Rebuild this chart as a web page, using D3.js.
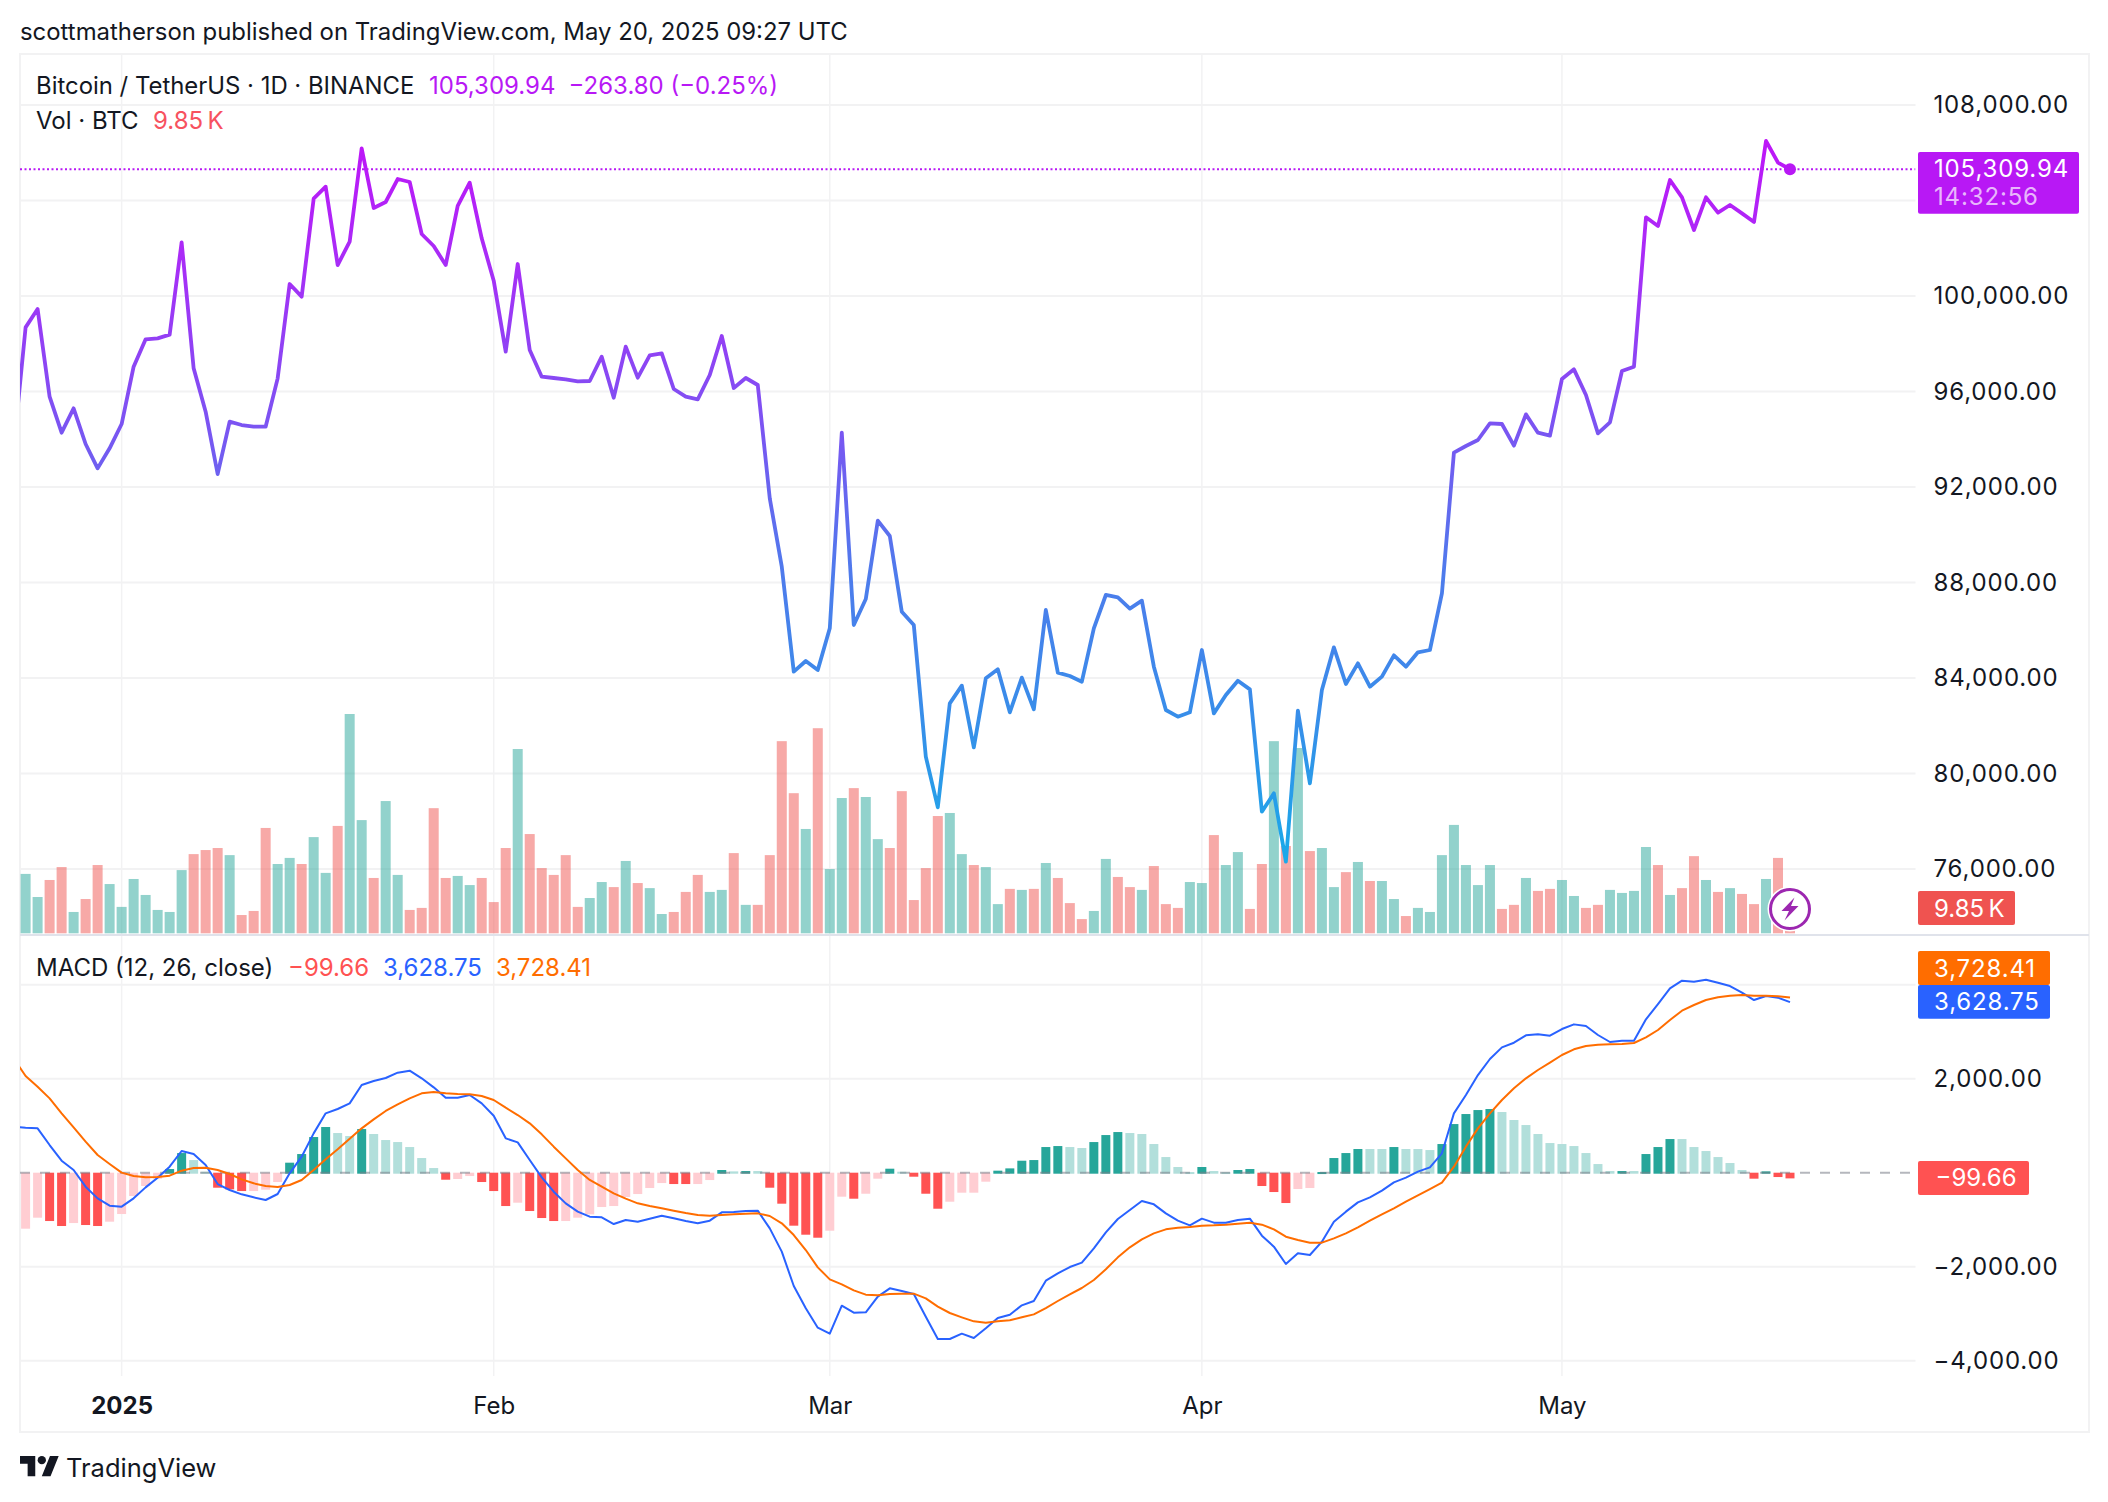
<!DOCTYPE html>
<html><head><meta charset="utf-8">
<script src="https://cdn.jsdelivr.net/npm/d3@7"></script>
<style>
html,body{margin:0;padding:0;background:#fff}
svg{display:block}
text{font-family:Inter,"Noto Sans",sans-serif;fill:#131722}
.axis path,.axis line{display:none}
</style></head><body><svg id="c" width="2108" height="1502"></svg>
<script>
// Daily closes, first value is 23 Dec 2024 (partly clipped by the pane edge), last is 20 May 2025
const close=[93591,98687,99455,95783,94275,95295,93801,92781,93619,94638,97040,98185,98227,98380,102248,96970,95155,92544,94736,94596,94527,94527,96551,100502,99972,104077,104579,101298,102276,106185,103686,103937,104900,104775,102597,102094,101298,103770,104747,102415,100642,97668,101340,97738,96621,96565,96509,96425,96439,97459,95741,97878,96579,97515,97598,96104,95783,95672,96691,98324,96146,96565,96272,91525,88663,84265,84712,84335,86080,94276,86220,87309,90590,89948,86778,86220,80705,78583,82939,83679,81096,83986,84363,82562,84014,82688,86848,84223,84084,83846,86080,87477,87379,86904,87239,84475,82660,82380,82562,85173,82520,83288,83888,83525,78401,79169,76307,82632,79588,83497,85284,83749,84614,83637,84056,84949,84475,85075,85173,87546,93438,93717,93968,94666,94638,93731,95043,94275,94150,96523,96928,95853,94247,94708,96858,97040,103295,102932,104859,104133,102764,104133,103490,103811,103462,103099,106492,105585,105309.94];
// Daily volume in thousands of BTC, from 24 Dec 2024
const volume=[23.4,14.3,21.0,26.1,8.4,13.5,26.9,19.4,10.4,21.4,15.1,9.2,8.4,24.9,31.2,32.8,33.6,30.8,7.2,8.8,41.5,27.3,29.7,27.3,37.9,23.8,42.3,86.4,44.6,21.8,52.1,23.0,9.2,10.0,49.3,21.8,22.6,19.0,21.8,12.3,33.6,72.6,39.1,25.7,23.0,30.8,10.4,13.9,20.2,18.2,28.5,19.8,17.8,7.6,8.4,16.3,23.0,16.3,17.1,31.6,11.2,11.2,30.8,75.7,55.2,41.1,80.8,25.3,53.3,57.2,53.7,37.1,33.6,56.0,13.1,25.7,46.2,47.4,31.2,26.9,26.1,11.5,17.5,17.1,17.5,27.7,21.8,11.9,5.6,8.8,29.3,22.2,18.2,17.1,26.5,11.5,10.0,20.2,19.8,38.7,26.9,32.0,9.6,27.3,75.7,34.4,73.0,32.4,33.6,18.2,24.1,28.1,20.6,20.6,13.5,6.8,10.0,8.4,30.8,42.7,26.9,19.0,26.9,9.6,11.2,21.8,16.7,17.5,21.0,14.7,10.0,11.2,17.1,15.9,16.7,34.0,26.9,15.1,17.8,30.4,21.0,16.3,17.8,15.5,11.5,21.4,29.7,9.85];
// 1 = close above open, 0 = below
const volumeUp=[1,1,0,0,1,0,0,1,1,1,1,1,1,1,0,0,0,1,0,0,0,1,1,0,1,1,0,1,1,0,1,1,0,0,0,0,1,1,0,0,0,1,0,0,0,0,0,1,1,0,1,0,1,1,0,0,0,1,1,0,1,0,0,0,0,1,0,1,1,0,1,1,0,0,0,0,0,1,1,0,1,1,0,1,0,1,0,0,0,1,1,0,0,1,0,0,0,1,1,0,1,1,0,0,1,0,1,0,1,1,0,1,0,1,1,0,1,1,1,1,1,1,1,0,0,1,0,0,1,1,0,0,1,1,1,1,0,1,0,0,1,0,1,0,0,1,0,0];
// MACD line and signal line, first value is 23 Dec 2024
const macdLine=[979,958,944,589,256,57,-297,-546,-702,-723,-546,-312,-106,128,462,398,164,-241,-368,-460,-524,-581,-453,-14,341,837,1263,1355,1476,1866,1951,2015,2128,2171,2008,1816,1596,1596,1653,1476,1213,731,646,270,-99,-404,-652,-829,-936,-950,-1092,-1007,-1042,-978,-914,-971,-1028,-1077,-1021,-843,-836,-815,-808,-1184,-1680,-2411,-2886,-3297,-3425,-2829,-2978,-2971,-2638,-2460,-2517,-2581,-3063,-3538,-3538,-3425,-3517,-3311,-3092,-3021,-2822,-2730,-2297,-2141,-2007,-1914,-1609,-1269,-985,-794,-602,-673,-865,-1021,-1120,-978,-1063,-1063,-1007,-978,-1340,-1574,-1943,-1716,-1751,-1468,-1042,-829,-631,-524,-382,-205,-106,22,114,412,1263,1653,2078,2419,2667,2766,2922,2944,2915,3057,3156,3121,2930,2781,2809,2809,3263,3589,3922,4086,4064,4107,4043,3972,3830,3674,3759,3724,3628.75];
const signalLine=[2433,2057,1830,1582,1263,965,660,376,185,1,-70,-99,-92,-63,43,100,107,57,-28,-141,-226,-283,-304,-262,-155,57,284,497,724,944,1135,1313,1454,1582,1688,1717,1688,1674,1667,1632,1547,1383,1227,1050,816,554,305,57,-155,-297,-439,-553,-652,-709,-758,-808,-858,-900,-914,-900,-886,-872,-865,-921,-1077,-1326,-1645,-2014,-2269,-2375,-2503,-2595,-2609,-2581,-2574,-2574,-2673,-2850,-2985,-3077,-3163,-3191,-3163,-3141,-3077,-3014,-2879,-2730,-2588,-2453,-2283,-2056,-1801,-1588,-1418,-1290,-1205,-1170,-1155,-1127,-1120,-1106,-1085,-1063,-1106,-1205,-1361,-1432,-1489,-1489,-1397,-1290,-1162,-1021,-886,-758,-616,-482,-347,-212,128,554,944,1263,1547,1795,2008,2185,2341,2504,2625,2696,2724,2731,2738,2759,2880,3036,3249,3447,3568,3674,3731,3766,3781,3766,3766,3752,3728.41];
// Histogram from 24 Dec 2024
const histogram=[-1170,-936,-1007,-1113,-1050,-1092,-1113,-1021,-858,-475,-262,-106,78,418,269,21,-298,-333,-369,-369,-340,-177,213,397,759,972,844,780,929,823,695,652,546,312,99,-128,-113,-50,-177,-369,-688,-617,-794,-943,-1007,-1007,-936,-865,-709,-688,-496,-433,-305,-199,-220,-220,-220,-135,57,28,35,35,-298,-638,-1106,-1298,-1362,-1213,-489,-532,-426,-106,85,21,-64,-426,-745,-596,-404,-404,-170,43,92,255,269,546,567,546,525,652,801,865,844,823,610,333,121,14,121,35,14,57,78,-262,-390,-624,-326,-305,14,312,418,504,504,504,546,504,504,482,610,1035,1248,1333,1355,1291,1121,1014,823,631,610,567,418,184,35,35,35,397,546,716,716,546,461,333,206,57,-106,28,-71,-99.66];
// 1 = saturated bar, 0 = pale bar
const histogramStrong=[0,0,1,1,0,1,1,0,0,0,0,0,1,1,0,0,1,1,1,0,0,0,1,1,1,1,0,0,1,0,0,0,0,0,0,1,0,0,1,1,1,0,1,1,1,0,0,0,0,0,0,0,0,0,1,1,0,0,1,0,1,0,1,1,1,1,1,0,0,1,0,0,1,0,1,1,1,0,0,0,0,1,1,1,1,1,1,0,0,1,1,1,0,0,0,0,0,0,1,0,0,1,1,1,1,1,0,0,1,1,1,1,0,0,1,0,0,0,1,1,1,1,1,0,0,0,0,0,0,0,0,0,0,1,0,1,1,1,0,0,0,0,0,0,1,1,1,1];
const priceTicks=[108000,100000,96000,92000,88000,84000,80000,76000];
const priceGrid=[108000,104000,100000,96000,92000,88000,84000,80000,76000];
const macdTicks=[2000,-2000,-4000];
const macdGrid=[4000,2000,-2000,-4000];
const timeTicks=["2025-01-01","2025-02-01","2025-03-01","2025-04-01","2025-05-01"];
const timeLabels=["2025","Feb","Mar","Apr","May"];
const lastPrice=105309.94, lastVolume=9.85, lastHist=-99.66, lastMacd=3628.75, lastSignal=3728.41;

const PURPLE="#b818f5",TEAL="#26a69a",RED="#ef5350",BLUE="#2962ff",ORANGE="#ff6d00",HRED="#ff5252";
const PL=20,PR=1915.5,PT=54,PB=1376,RIGHT=2089,BOTTOM=1432;
const svg=d3.select("#c");
svg.append("rect").attr("width",2108).attr("height",1502).attr("fill","#fff");
const defs=svg.append("defs");
defs.append("clipPath").attr("id","pane").append("rect").attr("x",PL).attr("y",PT).attr("width",PR-PL).attr("height",PB-PT);

const dayLine=d3.utcDays(new Date(Date.UTC(2024,11,23)),new Date(Date.UTC(2025,4,21)));
const dayBar=dayLine.slice(1);
const x=d3.scaleUtc().domain([dayBar[0],dayBar[dayBar.length-1]]).range([25.6,1790]);
const yP=d3.scaleLinear().domain([76000,108000]).range([869,105]);
const yV=d3.scaleLinear().domain([0,86.4]).range([933.3,714]);
const yM=d3.scaleLinear().domain([-4000,4000]).range([1360.7,984.7]);
const tickDates=timeTicks.map(d=>new Date(d+"T00:00:00Z"));

// grid
const GRID="#f2f2f3";
const grid=svg.append("g").attr("stroke",GRID).attr("stroke-width",2);
grid.selectAll(".v").data(tickDates).join("line").attr("x1",d=>x(d)).attr("x2",d=>x(d)).attr("y1",PT).attr("y2",PB).attr("stroke-width",1.5);
grid.selectAll(".hp").data(priceGrid).join("line").attr("x1",PL).attr("x2",PR).attr("y1",d=>yP(d)).attr("y2",d=>yP(d));
grid.selectAll(".hm").data(macdGrid).join("line").attr("x1",PL).attr("x2",PR).attr("y1",d=>yM(d)).attr("y2",d=>yM(d));
// frame
svg.append("rect").attr("x",PL).attr("y",PT).attr("width",RIGHT-PL).attr("height",BOTTOM-PT).attr("fill","none").attr("stroke",GRID).attr("stroke-width",2);
svg.append("line").attr("x1",PL).attr("x2",RIGHT).attr("y1",935).attr("y2",935).attr("stroke","#e0e3eb").attr("stroke-width",2);

const plot=svg.append("g").attr("clip-path","url(#pane)");
// volume
plot.append("g").selectAll("rect").data(volume).join("rect")
 .attr("x",(d,i)=>x(dayBar[i])-5).attr("width",10)
 .attr("y",d=>yV(d)).attr("height",d=>yV(0)-yV(d))
 .attr("fill",(d,i)=>volumeUp[i]?TEAL:RED).attr("fill-opacity",.5);

// price gradient
const grad=defs.append("linearGradient").attr("id","pg").attr("gradientUnits","userSpaceOnUse")
 .attr("x1",0).attr("x2",0).attr("y1",yP(108000)).attr("y2",yP(76000));
[[0,"#c40ff8"],[.2,"#a92cf7"],[.42,"#7b54f2"],[.62,"#4d7cec"],[.82,"#3590e9"],[1,"#18abe9"]]
 .forEach(([o,c])=>grad.append("stop").attr("offset",o).attr("stop-color",c));
// last-price line
plot.append("line").attr("x1",PL).attr("x2",PR).attr("y1",yP(lastPrice)).attr("y2",yP(lastPrice))
 .attr("stroke",PURPLE).attr("stroke-width",2).attr("stroke-dasharray","2 2.5");
plot.append("path").datum(close).attr("fill","none").attr("stroke","url(#pg)").attr("stroke-width",3.8).attr("stroke-linejoin","round")
 .attr("d",d3.line().x((d,i)=>x(dayLine[i])).y(d=>yP(d)));
plot.append("circle").attr("cx",x(dayBar[dayBar.length-1])).attr("cy",yP(lastPrice)).attr("r",6).attr("fill",PURPLE);

// MACD histogram
const histColor=(d,i)=>d>=0?(histogramStrong[i]?"#26a69a":"#b2dfdb"):(histogramStrong[i]?HRED:"#ffcdd2");
plot.append("g").selectAll("rect").data(histogram).join("rect")
 .attr("x",(d,i)=>x(dayBar[i])-4.5).attr("width",9)
 .attr("y",d=>Math.min(yM(d),yM(0))).attr("height",d=>Math.max(Math.abs(yM(d)-yM(0)),1)+1)
 .attr("fill",histColor);
plot.append("line").attr("x1",PL).attr("x2",PR).attr("y1",yM(0)).attr("y2",yM(0))
 .attr("stroke","#787b86").attr("stroke-opacity",.55).attr("stroke-width",2).attr("stroke-dasharray","10 10");
const mline=d3.line().x((d,i)=>x(dayLine[i])).y(d=>yM(d));
plot.append("path").datum(macdLine).attr("fill","none").attr("stroke",BLUE).attr("stroke-width",2).attr("stroke-linejoin","round").attr("d",mline);
plot.append("path").datum(signalLine).attr("fill","none").attr("stroke",ORANGE).attr("stroke-width",2).attr("stroke-linejoin","round").attr("d",mline);

// right axes
const FS=24, WIDE="0.85px";
const fmt=d3.format(",.2f");
function rightAxis(scale,ticks){
 const g=svg.append("g").attr("class","axis").attr("transform","translate(1933.5,0)")
  .call(d3.axisRight(scale).tickValues(ticks).tickFormat(fmt).tickSize(0).tickPadding(0));
 g.selectAll("text").style("font-size",FS+"px").style("font-family","Inter").style("letter-spacing",WIDE).attr("fill","#131722").attr("x",0);
}
rightAxis(yP,priceTicks);
rightAxis(yM,macdTicks);
// time axis
const tAxis=svg.append("g").attr("class","axis").attr("transform","translate(0,1376)")
 .call(d3.axisBottom(x).tickValues(tickDates).tickFormat((d,i)=>timeLabels[i]).tickSize(0).tickPadding(0));
tAxis.selectAll("text").attr("y",38.3).attr("dy",0).style("font-size",FS+"px").style("font-family","Inter").attr("fill","#131722")
 .style("font-weight",(d,i)=>i===0?700:400);

// helper for text
function T(s,px,py,fill,size,spacing){const t=svg.append("text").attr("x",px).attr("y",py).text(s).style("font-size",(size||FS)+"px").style("fill",fill||"#131722");if(spacing)t.style("letter-spacing",spacing);return t;}
T("scottmatherson published on TradingView.com, May 20, 2025 09:27 UTC",20,40,"#131722",23.9);
T("Bitcoin / TetherUS · 1D · BINANCE",36,94.3,"#131722",23.9);
T(fmt(lastPrice),429,94.3,PURPLE);
T("−263.80 (−0.25%)",568.5,94.3,PURPLE);
T("Vol · BTC",36,128.5);
T(lastVolume+"\u202fK",153,128.5,"#f7525f");
T("MACD (12, 26, close)",36,976.3);
T(d3.format(",.2f")(lastHist),288,976.3,HRED);
T(fmt(lastMacd),383,976.3,BLUE);
T(fmt(lastSignal),496,976.3,ORANGE);

// value labels on the axis
function tag(yTop,yBot,xEnd,fill){svg.append("rect").attr("x",1918).attr("y",yTop).attr("width",xEnd-1918).attr("height",yBot-yTop).attr("rx",2).attr("fill",fill);}
tag(152,213.7,2079,PURPLE);
T(fmt(lastPrice),1934,177,"#fff",FS,WIDE);
T("14:32:56",1934,205,"#fff",FS,WIDE).style("fill-opacity",.7);
tag(891,925,2015,RED);
T(lastVolume+"\u202fK",1934,917,"#fff");
tag(951,985,2050,ORANGE);
T(fmt(lastSignal),1934,977,"#fff",FS,WIDE);
tag(985,1018.7,2050,BLUE);
T(fmt(lastMacd),1934,1010,"#fff",FS,WIDE);
tag(1161,1195,2029,HRED);
T(fmt(lastHist),1935.5,1186,"#fff");

// bolt badge
const bx=x(dayBar[dayBar.length-1]),by=909;
const badge=svg.append("g").attr("transform",`translate(${bx},${by})`);
badge.append("circle").attr("r",22.5).attr("fill","#fff");
badge.append("circle").attr("r",19.5).attr("fill","#fff").attr("stroke","#9c27b0").attr("stroke-width",3);
badge.append("path").attr("fill","#9c27b0").attr("d","M4.5,-11.5 L-8.5,2 L-1,2 L-5.5,11.5 L8.5,-3 L1,-3 Z");

// TradingView logo
const logo=svg.append("g").attr("transform","translate(20,1456) scale(1.09)").attr("fill","#131722");
logo.append("path").attr("d","M14 18.5H7V7H0V0h14v18.5zM28 18.5h-8L27.5 0h8L28 18.5z");
logo.append("circle").attr("cx",20).attr("cy",3.8).attr("r",3.8);
T("TradingView",66,1477,"#131722",25.5);
</script></body></html>
